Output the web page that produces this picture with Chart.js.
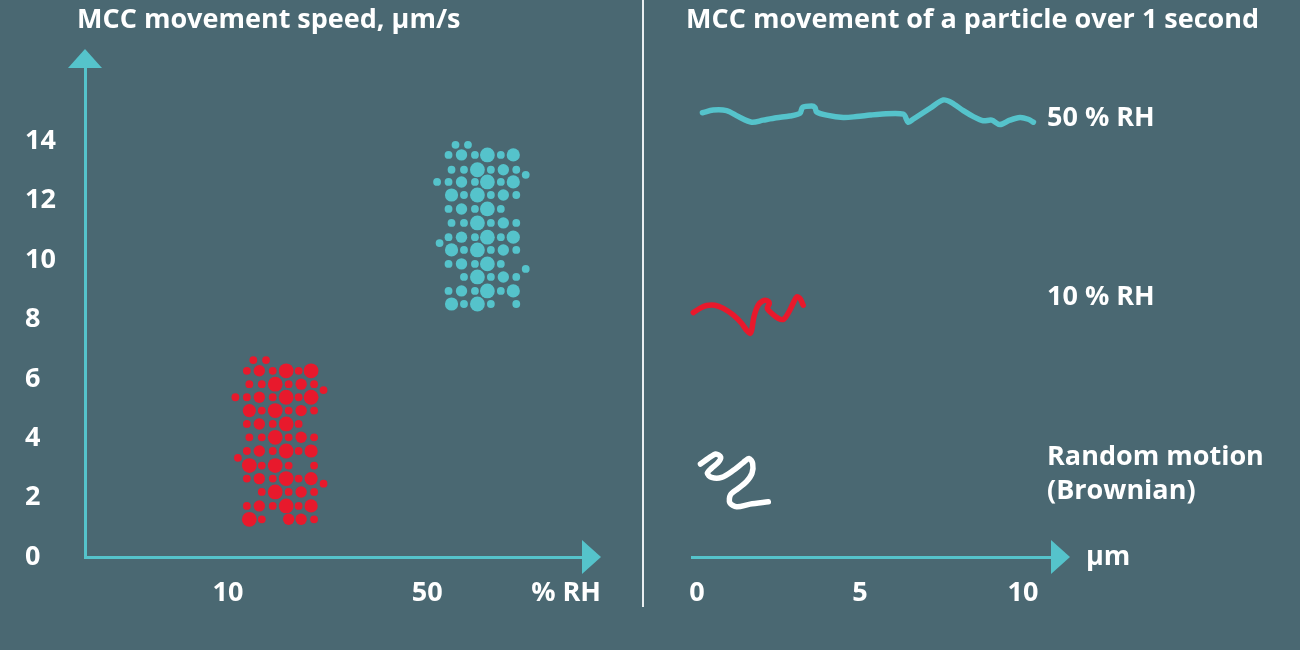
<!DOCTYPE html>
<html lang="en">
<head>
<meta charset="UTF-8">
<title>MCC movement</title>
<script src="https://cdn.jsdelivr.net/npm/chart.js"></script>
<style>
  body { margin: 0; background: #4a6872; width: 1300px; height: 650px; overflow: hidden; position: relative; }
  .painel { position: absolute; top: 0; }
  #esquerda { left: 0; }
  #direita { left: 645px; }
</style>
</head>
<body>
<div class="painel" id="esquerda"><canvas id="graficoVelocidade" width="645" height="650"></canvas></div>
<div class="painel" id="direita"><canvas id="graficoTrajeto" width="655" height="650"></canvas></div>

<script>
// ---- data ----
const rhTicks = [10, 50];
const speedTicks = [0, 2, 4, 6, 8, 10, 12, 14];
const distanceTicks = [0, 5, 10];

// one dot per particle: [position on RH axis, speed µm/s, size class 1-4]
const dots10 = [
  [15.1,6.63,1],[17.65,6.63,1],
  [13.8,6.27,1],[16.3,6.27,2],[19.0,6.27,1],[21.7,6.27,4],[24.2,6.27,1],[26.7,6.27,4],
  [14.3,5.82,1],[16.8,5.82,1],[19.5,5.82,4],[22.2,5.82,1],[24.7,5.82,2],[27.3,5.82,1],[29.2,5.62,1],
  [11.5,5.38,1],[13.8,5.38,1],[16.3,5.38,2],[19.0,5.38,1],[21.7,5.38,4],[24.2,5.38,1],[26.7,5.38,4],
  [14.3,4.93,3],[16.8,4.93,1],[19.5,4.93,4],[22.2,4.93,1],[24.7,4.93,2],[27.3,4.93,1],
  [13.8,4.48,1],[16.3,4.48,2],[19.0,4.48,1],[21.7,4.48,4],[24.2,4.48,1],
  [14.3,4.03,1],[16.8,4.03,1],[19.5,4.03,4],[22.2,4.03,1],[24.7,4.03,2],[27.3,4.03,1],
  [13.8,3.57,1],[16.3,3.57,2],[19.0,3.57,1],[21.7,3.57,4],[24.2,3.57,1],[26.7,3.57,3],[12.0,3.34,1],
  [14.3,3.08,4],[16.8,3.08,1],[19.5,3.08,4],[22.2,3.08,1],[27.3,3.08,1],
  [13.8,2.64,1],[16.3,2.64,2],[19.0,2.64,1],[21.7,2.64,4],[24.2,2.64,1],[26.7,2.64,3],[29.2,2.47,1],
  [16.8,2.19,1],[19.5,2.19,4],[22.2,2.19,1],[24.7,2.19,2],[27.3,2.19,1],
  [13.8,1.72,1],[16.3,1.72,2],[19.0,1.72,1],[21.7,1.72,4],[24.2,1.72,1],[26.7,1.72,3],
  [14.3,1.27,4],[16.8,1.27,1],[22.2,1.27,2],[24.7,1.27,2],[27.3,1.27,1]
];

const dots50 = [
  [55.7,13.88,1],[58.2,13.88,1],
  [54.3,13.54,1],[56.9,13.54,2],[59.6,13.54,1],[62.1,13.54,4],[64.8,13.54,1],[67.3,13.54,3],
  [54.9,13.04,1],[57.4,13.04,1],[60.1,13.04,4],[62.8,13.04,1],[65.3,13.04,2],[67.9,13.04,1],[69.8,12.87,1],
  [52.0,12.63,1],[54.3,12.63,1],[56.9,12.63,2],[59.6,12.63,1],[62.1,12.63,4],[64.8,12.63,1],[67.3,12.63,3],
  [54.9,12.19,3],[57.4,12.19,1],[60.1,12.19,4],[62.8,12.19,1],[65.3,12.19,2],[67.9,12.19,1],
  [54.3,11.72,1],[56.9,11.72,2],[59.6,11.72,1],[62.1,11.72,4],[64.8,11.72,1],
  [54.9,11.25,1],[57.4,11.25,1],[60.1,11.25,4],[62.8,11.25,1],[65.3,11.25,2],[67.9,11.25,1],
  [54.3,10.77,1],[56.9,10.77,2],[59.6,10.77,1],[62.1,10.77,4],[64.8,10.77,1],[67.3,10.77,3],[52.5,10.57,1],
  [54.9,10.34,3],[57.4,10.34,1],[60.1,10.34,4],[62.8,10.34,1],[65.3,10.34,2],[67.9,10.34,1],
  [54.3,9.87,1],[56.9,9.87,2],[59.6,9.87,1],[62.1,9.87,4],[64.8,9.87,1],[69.8,9.70,1],
  [57.4,9.43,1],[60.1,9.43,4],[62.8,9.43,1],[65.3,9.43,2],[67.9,9.43,1],
  [54.3,8.96,1],[56.9,8.96,2],[59.6,8.96,1],[62.1,8.96,4],[64.8,8.96,1],[67.3,8.96,3],
  [54.9,8.52,3],[57.4,8.52,1],[60.1,8.52,4],[62.8,8.52,1],[67.9,8.52,1]
];

// traced paths over 1 second (x in µm, y = vertical position on the same scale as the left chart)
const path50x = [0.17,0.50,0.91,1.27,1.68,2.03,2.44,2.85,3.16,3.24,3.52,3.62,3.67,3.98,4.49,4.90,5.31,5.61,6.33,6.48,6.63,7.15,7.56,7.81,8.17,8.48,8.78,9.04,9.29,9.60,9.91,10.16,10.32];
const path50y = [14.96,15.05,15.03,14.83,14.64,14.71,14.79,14.85,14.94,15.14,15.19,15.14,14.99,14.88,14.80,14.83,14.88,14.91,14.91,14.64,14.74,15.11,15.39,15.30,15.03,14.83,14.69,14.71,14.56,14.71,14.80,14.74,14.64];
const path10x = [-0.11,0.09,0.30,0.55,0.81,1.11,1.37,1.52,1.63,1.68,1.75,1.88,2.03,2.16,2.22,2.16,2.29,2.49,2.65,2.80,2.95,3.06,3.16,3.26];
const path10y = [8.23,8.37,8.47,8.48,8.37,8.15,7.87,7.64,7.53,7.64,8.09,8.48,8.63,8.63,8.54,8.37,8.21,8.04,8.00,8.21,8.54,8.76,8.71,8.48];
const pathRandomX = [0.11,0.35,0.58,0.73,0.65,0.45,0.32,0.45,0.76,1.11,1.42,1.60,1.71,1.69,1.52,1.27,1.03,1.01,1.22,1.63,2.19];
const pathRandomY = [3.13,3.32,3.47,3.36,3.18,2.99,2.82,2.68,2.68,2.91,3.18,3.32,3.15,2.82,2.54,2.31,2.09,1.83,1.69,1.78,1.86];

// ---- style ----
const teal = '#55c3cb';
const red = '#e8192c';
const white = '#ffffff';
const fonte = '"Open Sans", sans-serif';
const tickFont = { family: fonte, weight: 'bold', size: 27 };
const sizeRadius = [0, 3.9, 5.7, 6.6, 7.4];

function toPoints(list) {
  return list.map(d => ({ x: d[0], y: d[1], s: d[2] }));
}
function toPath(xs, ys) {
  return xs.map((x, i) => ({ x: x, y: ys[i] }));
}

function arrows(chart, up) {
  const ctx = chart.ctx;
  const a = chart.chartArea;
  ctx.fillStyle = teal;
  if (up) {
    ctx.beginPath();
    ctx.moveTo(a.left, a.top - 18);
    ctx.lineTo(a.left + 17, a.top + 1);
    ctx.lineTo(a.left - 17, a.top + 1);
    ctx.fill();
  }
  ctx.beginPath();
  ctx.moveTo(a.right + 18, a.bottom);
  ctx.lineTo(a.right - 1, a.bottom - 17);
  ctx.lineTo(a.right - 1, a.bottom + 17);
  ctx.fill();
}

const leftDecor = {
  id: 'leftDecor',
  afterDraw(chart) {
    const ctx = chart.ctx;
    const a = chart.chartArea;
    ctx.save();
    arrows(chart, true);
    ctx.fillStyle = white;
    ctx.textBaseline = 'middle';
    ctx.textAlign = 'left';
    ctx.font = 'bold 27px ' + fonte;
    ctx.fillText('MCC movement speed, µm/s', a.left - 8, 20);
    ctx.textAlign = 'right';
    ctx.fillText('% RH', a.right + 18, a.bottom + 36);
    // divider between the two panels
    ctx.strokeStyle = '#e9eef0';
    ctx.lineWidth = 2;
    ctx.beginPath();
    ctx.moveTo(chart.width - 2, 0);
    ctx.lineTo(chart.width - 2, 607);
    ctx.stroke();
    ctx.restore();
  }
};

const rightDecor = {
  id: 'rightDecor',
  afterDraw(chart) {
    const ctx = chart.ctx;
    const a = chart.chartArea;
    const y = chart.scales.y;
    ctx.save();
    arrows(chart, false);
    ctx.fillStyle = white;
    ctx.textBaseline = 'middle';
    ctx.textAlign = 'left';
    ctx.font = 'bold 27px ' + fonte;
    ctx.fillText('MCC movement of a particle over 1 second', a.left - 6, 20);
    ctx.fillText('µm', a.right + 34, a.bottom);
    const labels = [['50 % RH', 14.78], ['10 % RH', 8.75], ['Random motion', 3.37], ['(Brownian)', 2.22]];
    labels.forEach(l => ctx.fillText(l[0], a.right - 5, y.getPixelForValue(l[1])));
    ctx.restore();
  }
};

const common = {
  responsive: false,
  animation: false,
  events: [],
  plugins: { legend: { display: false }, tooltip: { enabled: false } }
};

new Chart(document.getElementById('graficoVelocidade'), {
  type: 'scatter',
  data: {
    datasets: [
      { label: '10 % RH', data: toPoints(dots10), backgroundColor: red, borderWidth: 0,
        pointRadius: c => sizeRadius[c.raw.s] },
      { label: '50 % RH', data: toPoints(dots50), backgroundColor: teal, borderWidth: 0,
        pointRadius: c => sizeRadius[c.raw.s] }
    ]
  },
  options: {
    ...common,
    layout: { padding: { left: 25, top: 67, right: 62, bottom: 33 } },
    scales: {
      x: {
        type: 'linear', min: -18.7, max: 81.3,
        grid: { display: false, drawTicks: false },
        border: { color: teal, width: 3 },
        afterBuildTicks: s => { s.ticks = rhTicks.map(v => ({ value: v })); },
        afterFit: s => { s.height = 60; },
        ticks: { color: white, font: tickFont, padding: 20 }
      },
      y: {
        min: 0, max: 16.5,
        grid: { display: false, drawTicks: false },
        border: { color: teal, width: 3 },
        afterBuildTicks: s => { s.ticks = speedTicks.map(v => ({ value: v })); },
        afterFit: s => { s.width = 60; },
        ticks: { color: white, font: tickFont, crossAlign: 'far' }
      }
    }
  },
  plugins: [leftDecor]
});

new Chart(document.getElementById('graficoTrajeto'), {
  type: 'scatter',
  data: {
    datasets: [
      { label: '50 % RH', data: toPath(path50x, path50y), borderColor: teal },
      { label: '10 % RH', data: toPath(path10x, path10y), borderColor: red },
      { label: 'Random motion (Brownian)', data: toPath(pathRandomX, pathRandomY), borderColor: white }
    ].map(d => Object.assign(d, {
      showLine: true, pointRadius: 0, borderWidth: 5.5, tension: 0.3,
      borderCapStyle: 'round', borderJoinStyle: 'round', clip: false
    }))
  },
  options: {
    ...common,
    layout: { padding: { left: 47, top: 67, right: 248, bottom: 33 } },
    scales: {
      x: {
        type: 'linear', min: -0.15, max: 10.89,
        grid: { display: false, drawTicks: false },
        border: { color: teal, width: 3 },
        afterBuildTicks: s => { s.ticks = distanceTicks.map(v => ({ value: v })); },
        afterFit: s => { s.height = 60; },
        ticks: { color: white, font: tickFont, padding: 20 }
      },
      y: { display: false, min: 0, max: 16.5 }
    }
  },
  plugins: [rightDecor]
});
</script>
</body>
</html>
